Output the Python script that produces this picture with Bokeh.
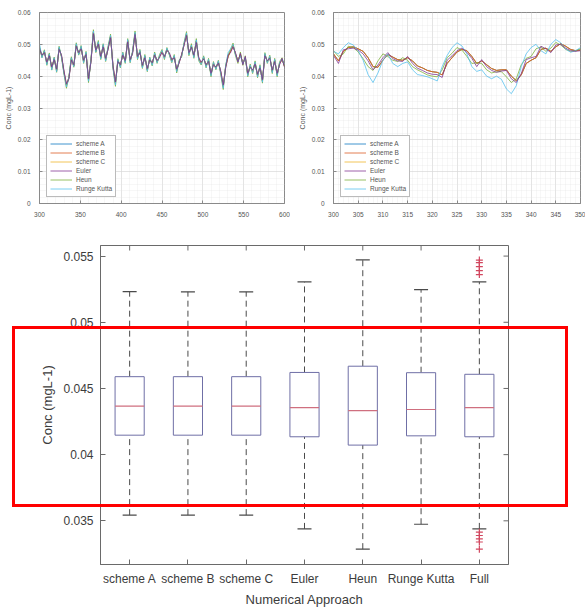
from bokeh.plotting import figure
from bokeh.layouts import column, row
from bokeh.models import (Legend, LegendItem, FixedTicker, CustomJSTickFormatter, Range1d,
                          FactorRange, ColumnDataSource, InlineStyleSheet)
from bokeh.transform import dodge
from bokeh.embed import file_html
from bokeh.resources import INLINE

FONT = "Liberation Sans"

# ---------------- data: top-left time series (days 300-600) ----------------
x_left = list(range(300, 601, 3))
conc_left_abc = [
    0.0490, 0.0462, 0.0478, 0.0440, 0.0468, 0.0425, 0.0455, 0.0418, 0.0488, 0.0462,
    0.0412, 0.0372, 0.0395, 0.0455, 0.0432, 0.0498, 0.0470, 0.0490, 0.0446, 0.0472,
    0.0388, 0.0448, 0.0538, 0.0478, 0.0505, 0.0458, 0.0496, 0.0452, 0.0488, 0.0525,
    0.0430, 0.0378, 0.0450, 0.0432, 0.0470, 0.0445, 0.0512, 0.0448, 0.0475, 0.0535,
    0.0458, 0.0478, 0.0430, 0.0462, 0.0420, 0.0455, 0.0438, 0.0470, 0.0445, 0.0462,
    0.0478, 0.0458, 0.0485, 0.0470, 0.0448, 0.0462, 0.0418, 0.0445, 0.0465, 0.0500,
    0.0532, 0.0470, 0.0495, 0.0462, 0.0510, 0.0455, 0.0440, 0.0458, 0.0432, 0.0450,
    0.0405, 0.0440, 0.0425, 0.0445, 0.0412, 0.0368, 0.0430, 0.0462, 0.0478, 0.0496,
    0.0470, 0.0448, 0.0468, 0.0440, 0.0458, 0.0405, 0.0432, 0.0415, 0.0442, 0.0402,
    0.0430, 0.0385, 0.0468, 0.0445, 0.0460, 0.0415, 0.0450, 0.0405, 0.0440, 0.0452,
    0.0432]
conc_left_euler = [
    0.0486, 0.0466, 0.0474, 0.0444, 0.0464, 0.0429, 0.0452, 0.0422, 0.0484, 0.0466,
    0.0416, 0.0376, 0.0391, 0.0451, 0.0436, 0.0494, 0.0474, 0.0486, 0.0450, 0.0468,
    0.0392, 0.0444, 0.0534, 0.0482, 0.0501, 0.0462, 0.0492, 0.0456, 0.0484, 0.0521,
    0.0434, 0.0382, 0.0446, 0.0436, 0.0466, 0.0449, 0.0508, 0.0452, 0.0471, 0.0531,
    0.0462, 0.0474, 0.0434, 0.0458, 0.0424, 0.0451, 0.0442, 0.0466, 0.0449, 0.0458,
    0.0474, 0.0462, 0.0481, 0.0474, 0.0452, 0.0458, 0.0422, 0.0441, 0.0469, 0.0496,
    0.0528, 0.0474, 0.0491, 0.0466, 0.0506, 0.0459, 0.0444, 0.0454, 0.0436, 0.0446,
    0.0409, 0.0436, 0.0429, 0.0441, 0.0416, 0.0372, 0.0426, 0.0466, 0.0474, 0.0492,
    0.0474, 0.0444, 0.0472, 0.0436, 0.0462, 0.0409, 0.0428, 0.0419, 0.0438, 0.0406,
    0.0426, 0.0389, 0.0464, 0.0449, 0.0456, 0.0419, 0.0446, 0.0409, 0.0436, 0.0456,
    0.0428]
conc_left_heun = [
    0.0495, 0.0458, 0.0483, 0.0434, 0.0473, 0.0419, 0.0460, 0.0412, 0.0494, 0.0458,
    0.0406, 0.0362, 0.0398, 0.0461, 0.0428, 0.0505, 0.0466, 0.0496, 0.0440, 0.0478,
    0.0380, 0.0452, 0.0546, 0.0474, 0.0512, 0.0452, 0.0502, 0.0446, 0.0494, 0.0532,
    0.0424, 0.0368, 0.0455, 0.0426, 0.0476, 0.0440, 0.0518, 0.0442, 0.0480, 0.0542,
    0.0452, 0.0484, 0.0424, 0.0468, 0.0414, 0.0460, 0.0432, 0.0476, 0.0440, 0.0468,
    0.0484, 0.0452, 0.0490, 0.0466, 0.0442, 0.0468, 0.0410, 0.0450, 0.0460, 0.0506,
    0.0540, 0.0464, 0.0502, 0.0456, 0.0518, 0.0448, 0.0435, 0.0464, 0.0426, 0.0456,
    0.0398, 0.0446, 0.0420, 0.0450, 0.0405, 0.0358, 0.0436, 0.0468, 0.0484, 0.0504,
    0.0464, 0.0440, 0.0476, 0.0434, 0.0464, 0.0398, 0.0438, 0.0408, 0.0448, 0.0395,
    0.0436, 0.0378, 0.0474, 0.0440, 0.0466, 0.0408, 0.0456, 0.0398, 0.0446, 0.0458,
    0.0430]
conc_left_rk = [
    0.0502, 0.0458, 0.0480, 0.0436, 0.0470, 0.0420, 0.0458, 0.0414, 0.0492, 0.0460,
    0.0408, 0.0366, 0.0396, 0.0458, 0.0430, 0.0502, 0.0468, 0.0494, 0.0442, 0.0476,
    0.0384, 0.0450, 0.0542, 0.0476, 0.0508, 0.0454, 0.0500, 0.0448, 0.0492, 0.0528,
    0.0426, 0.0372, 0.0452, 0.0428, 0.0474, 0.0442, 0.0515, 0.0444, 0.0478, 0.0538,
    0.0455, 0.0481, 0.0426, 0.0465, 0.0416, 0.0458, 0.0434, 0.0473, 0.0442, 0.0465,
    0.0481, 0.0455, 0.0488, 0.0468, 0.0444, 0.0465, 0.0414, 0.0448, 0.0462, 0.0503,
    0.0536, 0.0467, 0.0498, 0.0458, 0.0514, 0.0451, 0.0437, 0.0461, 0.0428, 0.0453,
    0.0401, 0.0443, 0.0422, 0.0448, 0.0408, 0.0362, 0.0433, 0.0474, 0.0486, 0.0500,
    0.0467, 0.0446, 0.0465, 0.0438, 0.0459, 0.0401, 0.0435, 0.0411, 0.0445, 0.0398,
    0.0433, 0.0381, 0.0471, 0.0442, 0.0463, 0.0411, 0.0453, 0.0401, 0.0443, 0.0454,
    0.0434]

# ---------------- data: top-right time series (days 300-350) ----------------
x_right = list(range(300, 351))
conc_right_abc = [
    0.0470, 0.0448, 0.0478, 0.0490, 0.0492, 0.0486, 0.0478, 0.0458, 0.0430, 0.0428,
    0.0450, 0.0468, 0.0460, 0.0452, 0.0450, 0.0458, 0.0448, 0.0432, 0.0426, 0.0418,
    0.0414, 0.0412, 0.0404, 0.0440, 0.0458, 0.0476, 0.0484, 0.0480, 0.0462, 0.0440,
    0.0448, 0.0436, 0.0424, 0.0418, 0.0420, 0.0420, 0.0400, 0.0386, 0.0404, 0.0440,
    0.0450, 0.0458, 0.0484, 0.0488, 0.0478, 0.0492, 0.0502, 0.0494, 0.0484, 0.0480,
    0.0482]
conc_right_euler = [
    0.0465, 0.0440, 0.0483, 0.0486, 0.0488, 0.0482, 0.0470, 0.0448, 0.0420, 0.0435,
    0.0458, 0.0474, 0.0455, 0.0448, 0.0446, 0.0462, 0.0440, 0.0425, 0.0418, 0.0410,
    0.0406, 0.0405, 0.0396, 0.0450, 0.0464, 0.0480, 0.0488, 0.0475, 0.0456, 0.0430,
    0.0452, 0.0430, 0.0418, 0.0412, 0.0416, 0.0418, 0.0392, 0.0380, 0.0408, 0.0452,
    0.0458, 0.0462, 0.0494, 0.0486, 0.0474, 0.0498, 0.0500, 0.0488, 0.0480, 0.0478,
    0.0480]
conc_right_heun = [
    0.0480, 0.0462, 0.0470, 0.0494, 0.0490, 0.0476, 0.0455, 0.0430, 0.0418, 0.0448,
    0.0470, 0.0462, 0.0450, 0.0446, 0.0458, 0.0450, 0.0430, 0.0420, 0.0412, 0.0404,
    0.0400, 0.0398, 0.0420, 0.0458, 0.0472, 0.0490, 0.0482, 0.0462, 0.0440, 0.0442,
    0.0440, 0.0420, 0.0410, 0.0414, 0.0414, 0.0398, 0.0380, 0.0392, 0.0436, 0.0456,
    0.0462, 0.0486, 0.0492, 0.0478, 0.0488, 0.0506, 0.0498, 0.0484, 0.0478, 0.0480,
    0.0486]
conc_right_rk = [
    0.0478, 0.0470, 0.0490, 0.0505, 0.0498, 0.0480, 0.0450, 0.0405, 0.0380, 0.0410,
    0.0450, 0.0470, 0.0440, 0.0430, 0.0440, 0.0445, 0.0420, 0.0405, 0.0402, 0.0398,
    0.0392, 0.0385, 0.0430, 0.0465, 0.0490, 0.0505, 0.0495, 0.0470, 0.0430, 0.0415,
    0.0420, 0.0400, 0.0392, 0.0400, 0.0390, 0.0360, 0.0345, 0.0370, 0.0430, 0.0470,
    0.0490, 0.0500, 0.0480, 0.0470, 0.0500, 0.0515, 0.0505, 0.0485, 0.0475, 0.0480,
    0.0490]

series_names = ["scheme A", "scheme B", "scheme C", "Euler", "Heun", "Runge Kutta"]
series_colors = ["#0072BD", "#D95319", "#EDB120", "#7E2F8E", "#77AC30", "#4DBEEE"]
draw_order = ["scheme A", "scheme C", "scheme B", "Heun", "Runge Kutta", "Euler"]

left_ticks = [300, 350, 400, 450, 500, 550, 600]
left_minor = list(range(300, 601, 10))
right_ticks = [300, 305, 310, 315, 320, 325, 330, 335, 340, 345, 350]
right_minor = list(range(300, 351, 1))
ts_yticks = [0, 0.01, 0.02, 0.03, 0.04, 0.05, 0.06]
ts_yminor = [0.002 * i for i in range(31)]

# ---------------- data: boxplot statistics ----------------
box_cats = ["scheme A", "scheme B", "scheme C", "Euler", "Heun", "Runge Kutta", "Full"]
box_upper = [0.05232, 0.05230, 0.05230, 0.05305, 0.05471, 0.05247, 0.05305]
box_q3 = [0.04589, 0.04589, 0.04589, 0.04621, 0.04668, 0.04619, 0.04607]
box_median = [0.04366, 0.04366, 0.04366, 0.04355, 0.04333, 0.04341, 0.04355]
box_q1 = [0.04147, 0.04147, 0.04147, 0.04135, 0.04072, 0.04142, 0.04135]
box_lower = [0.03543, 0.03543, 0.03543, 0.03439, 0.03286, 0.03474, 0.03439]
outlier_cat = ["Full"] * 10
outlier_vals = [0.0547, 0.0545, 0.0542, 0.0539, 0.0536,
                0.03414, 0.03389, 0.03364, 0.03340, 0.03286]
box_yticks = [0.035, 0.04, 0.045, 0.05, 0.055]

TXT = "#555555"
AX = "#8a8a8a"


def style_axis(ax, size="6.5px", color=TXT):
    ax.major_label_text_font = FONT
    ax.major_label_text_font_size = size
    ax.major_label_text_color = color
    ax.axis_label_text_font = FONT
    ax.axis_label_text_font_style = "normal"
    ax.axis_line_color = AX
    ax.major_tick_line_color = AX
    ax.major_tick_in = 3
    ax.major_tick_out = 0
    ax.minor_tick_line_color = None


def ts_fig(xvals, data, xr, xticks, xminor, width, bl, br):
    p = figure(width=width, height=220, output_backend="svg", toolbar_location=None,
               tools="", x_range=Range1d(*xr), y_range=Range1d(0, 0.06),
               min_border_left=bl, min_border_right=br, min_border_top=12,
               min_border_bottom=17)
    p.background_fill_color = "white"
    p.border_fill_color = "white"
    p.outline_line_color = AX
    p.xaxis.ticker = FixedTicker(ticks=xticks, minor_ticks=xminor)
    p.yaxis.ticker = FixedTicker(ticks=ts_yticks, minor_ticks=ts_yminor)
    p.yaxis.formatter = CustomJSTickFormatter(
        code="return tick == 0 ? '0' : tick.toFixed(2);")
    style_axis(p.xaxis[0])
    style_axis(p.yaxis[0])
    p.xaxis.major_label_standoff = 4
    p.yaxis.major_label_standoff = 5
    p.yaxis.axis_label = "Conc (mgL-1)"
    p.yaxis.axis_label_text_font_size = "7px"
    p.yaxis.axis_label_text_color = TXT
    p.yaxis.axis_label_standoff = 3
    for g in (p.xgrid[0], p.ygrid[0]):
        g.grid_line_color = "#d6d6d6"
        g.grid_line_width = 0.6
        g.minor_grid_line_color = "#e6e6e6"
        g.minor_grid_line_width = 0.6
        g.minor_grid_line_dash = "1 1"
    rend = {}
    for name in draw_order:
        i = series_names.index(name)
        rend[name] = p.line(xvals, data[name], line_color=series_colors[i],
                            line_width=1, line_alpha=0.75)
    items = [LegendItem(label=n, renderers=[rend[n]]) for n in series_names]
    leg = Legend(items=items, location=(7, 6))
    leg.label_text_font = FONT
    leg.label_text_font_size = "6.5px"
    leg.label_text_color = TXT
    leg.glyph_width = 22
    leg.glyph_height = 9
    leg.label_height = 9
    leg.label_standoff = 4
    leg.spacing = 0
    leg.padding = 3
    leg.margin = 0
    leg.border_line_color = "#777777"
    leg.background_fill_alpha = 1
    p.add_layout(leg)
    return p


left_data = {"scheme A": conc_left_abc, "scheme B": conc_left_abc, "scheme C": conc_left_abc,
             "Euler": conc_left_euler, "Heun": conc_left_heun, "Runge Kutta": conc_left_rk}
right_data = {"scheme A": conc_right_abc, "scheme B": conc_right_abc, "scheme C": conc_right_abc,
              "Euler": conc_right_euler, "Heun": conc_right_heun, "Runge Kutta": conc_right_rk}

p_left = ts_fig(x_left, left_data, (300, 600), left_ticks, left_minor, 290, 39, 6)
p_right = ts_fig(x_right, right_data, (300, 350), right_ticks, right_minor, 295, 43, 5)

# ---------------- boxplot ----------------
red_box = InlineStyleSheet(css="""
:host { position: relative; }
:host::after {
  content: ""; position: absolute; box-sizing: border-box;
  left: 12px; top: 106px; width: 556px; height: 181px;
  border: 3px solid #ff0000; pointer-events: none; z-index: 10;
}
""")

pb = figure(width=585, height=389, output_backend="svg", toolbar_location=None, tools="",
            x_range=FactorRange(factors=box_cats, range_padding=0),
            y_range=Range1d(0.0317, 0.0558),
            min_border_left=100, min_border_right=77, min_border_top=25,
            min_border_bottom=42)
pb.stylesheets = [red_box]
pb.background_fill_color = "white"
pb.border_fill_color = "white"
pb.outline_line_color = "#6a6a6a"
pb.xgrid.grid_line_color = None
pb.ygrid.grid_line_color = None

BTXT = "#3c3c3c"
pb.yaxis.ticker = FixedTicker(ticks=box_yticks, minor_ticks=[])
pb.yaxis.formatter = CustomJSTickFormatter(
    code="return parseFloat(tick.toFixed(3)).toString();")
for ax in (pb.xaxis[0], pb.yaxis[0]):
    style_axis(ax, "12px", BTXT)
    ax.axis_line_color = "#6a6a6a"
    ax.major_tick_line_color = "#6a6a6a"
    ax.major_tick_in = 5
    ax.axis_label_text_font_size = "13px"
    ax.axis_label_text_color = BTXT
pb.xaxis.axis_label = "Numerical Approach"
pb.yaxis.axis_label = "Conc (mgL-1)"
pb.xaxis.major_label_standoff = 7
pb.xaxis.axis_label_standoff = 3
pb.yaxis.major_label_standoff = 7
pb.yaxis.axis_label_standoff = 5

# mirrored tick marks on the top and right edges (MATLAB "box on")
pb.scatter(x=box_cats, y=[pb.y_range.end] * len(box_cats), marker="dash", angle=1.5708,
           size=10, line_color="#6a6a6a", line_width=1)
tick_src = ColumnDataSource(dict(cat=[box_cats[-1]] * len(box_yticks), y=box_yticks))
pb.scatter(x=dodge("cat", 0.5, range=pb.x_range), y="y", source=tick_src, marker="dash",
           size=10, line_color="#6a6a6a", line_width=1)

src = ColumnDataSource(dict(cat=box_cats, upper=box_upper, q3=box_q3, med=box_median,
                            q1=box_q1, lower=box_lower))
WH = "#4a4a4a"
pb.segment(x0="cat", x1="cat", y0="q3", y1="upper", source=src,
           line_color=WH, line_dash="6 4", line_width=1)
pb.segment(x0="cat", x1="cat", y0="lower", y1="q1", source=src,
           line_color=WH, line_dash="6 4", line_width=1)
pb.segment(x0=dodge("cat", -0.12, range=pb.x_range), x1=dodge("cat", 0.12, range=pb.x_range),
           y0="upper", y1="upper", source=src, line_color=WH, line_width=1.2)
pb.segment(x0=dodge("cat", -0.12, range=pb.x_range), x1=dodge("cat", 0.12, range=pb.x_range),
           y0="lower", y1="lower", source=src, line_color=WH, line_width=1.2)
pb.vbar(x="cat", top="q3", bottom="q1", width=0.5, source=src,
        fill_color="white", line_color="#6f6fa6", line_width=1)
pb.segment(x0=dodge("cat", -0.25, range=pb.x_range), x1=dodge("cat", 0.25, range=pb.x_range),
           y0="med", y1="med", source=src, line_color="#cf6f7f", line_width=1.2)
pb.scatter(x=outlier_cat, y=outlier_vals, marker="cross", size=7,
           line_color="#d2475f", line_width=1.2)

layout = column(row(p_left, p_right, spacing=0), pb, spacing=0)
open("out.html", "w").write(file_html(layout, INLINE))
